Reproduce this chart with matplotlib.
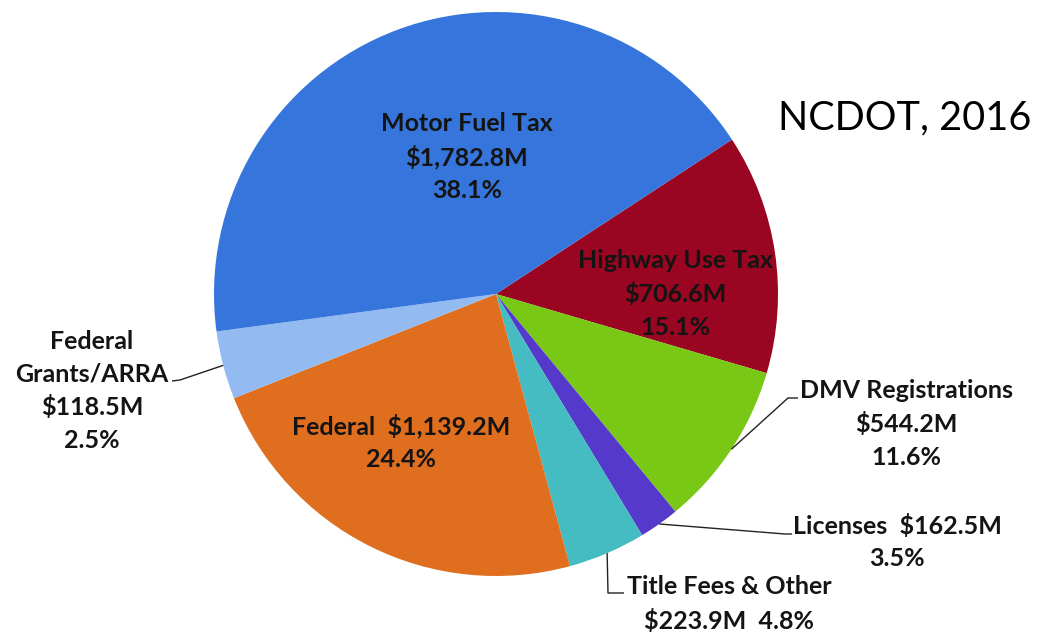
import matplotlib
matplotlib.use("Agg")
import numpy as np
import matplotlib.pyplot as plt

W, H = 1039, 633

# wedges run clockwise, starting at the Motor Fuel / Highway Use edge
sources = ["Highway Use Tax", "DMV Registrations", "Licenses", "Title Fees & Other",
           "Federal", "Federal\nGrants/ARRA", "Motor Fuel Tax"]
amounts = ["$706.6M", "$544.2M", "$162.5M", "$223.9M", "$1,139.2M", "$118.5M", "$1,782.8M"]
pct_labels = ["15.1%", "11.6%", "3.5%", "4.8%", "24.4%", "2.5%", "38.1%"]
# share of the circle each wedge takes in the picture (%)
wedge_share = [13.75, 9.5, 2.3, 4.45, 23.2, 3.9, 42.9]

colors = ["#9a0521", "#78c815", "#5439cb", "#44bcc1", "#e06e1f", "#93bbf2", "#3676dc"]

# how each label is laid out: (format, centre in image px, leader elbow + end or None)
label_layout = [
    ("{n}\n{a}\n{p}", (675, 294), None),
    ("{n}\n{a}\n{p}", (906, 424), [(788, 398), (798, 398)]),
    ("{n}  {a}\n{p}", (897, 542), [(785, 534), (792, 534)]),
    ("{n}\n{a}  {p}", (729, 604), [(608, 593), (624, 593)]),
    ("{n}  {a}\n{p}", (401, 442), None),
    ("{n}\n{a}\n{p}", (92, 391), [(180, 380), (172, 381)]),
    ("{n}\n{a}\n{p}", (467, 157), None),
]

def px(x, y):
    # image pixel (y down) -> axes coords (y up)
    return x, H - y

fig = plt.figure(figsize=(W / 100, H / 100), dpi=100)
ax = fig.add_axes([0, 0, 1, 1])

cx, cy = px(496, 294)
R = 282
wedges, _ = ax.pie(wedge_share, colors=colors, startangle=33.2, counterclock=False,
                   center=(cx, cy), radius=R, wedgeprops=dict(linewidth=0))

ax.set_xlim(0, W)
ax.set_ylim(0, H)
ax.set_aspect("equal")
ax.axis("off")

font = dict(family=["Lato", "DejaVu Sans"], fontweight="bold", color="#141414",
            fontsize=18, linespacing=1.5, ha="center", va="center")

for w, n, a, p, (fmt, (lx, ly), leader) in zip(wedges, sources, amounts, pct_labels, label_layout):
    ax.text(*px(lx, ly), fmt.format(n=n, a=a, p=p), **font)
    if leader:
        mid = np.deg2rad((w.theta1 + w.theta2) / 2)
        xs = [cx + R * np.cos(mid)] + [q[0] for q in leader]
        ys = [cy + R * np.sin(mid)] + [H - q[1] for q in leader]
        ax.plot(xs, ys, color="#222222", lw=1.0, solid_capstyle="butt")

ax.text(*px(778, 118), "NCDOT, 2016", family=["Lato", "DejaVu Sans"], fontsize=28.5,
        ha="left", va="center", color="black")

fig.savefig("out.png", dpi=100)
